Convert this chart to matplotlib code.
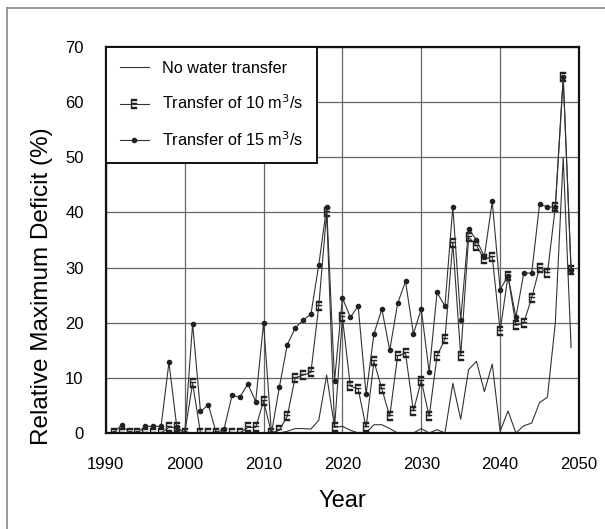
import numpy as np
import matplotlib.pyplot as plt
from matplotlib.lines import Line2D

plt.rcParams['font.family'] = ['Liberation Sans', 'DejaVu Sans']

years = np.arange(1991, 2050)

# relative maximum deficit (%) per year
no_transfer = [0, 0, 0, 0, 0, 0, 0, 0, 0, 0,
               0, 0, 0, 0, 0, 0, 0, 0, 0, 0,
               0, 0, 0.3, 0.8, 0.8, 0.7, 2.3, 10.5, 1.0, 1.2,
               0.5, 0, 0, 1.5, 1.5, 0.8, 0, 0, 0, 0.8,
               0, 0.6, 0, 9.0, 2.5, 11.5, 13.0, 7.5, 12.5, 0.3,
               4.0, 0, 1.3, 1.8, 5.5, 6.5, 20.0, 50.0, 15.5]

transfer_10 = [0, 0, 0, 0, 0, 0, 0, 1.0, 1.0, 0,
               9.0, 0, 0, 0, 0, 0, 0, 1.0, 1.0, 5.8,
               0, 0.5, 3.0, 10.0, 10.5, 11.0, 23.0, 40.0, 1.0, 21.0,
               8.5, 8.0, 1.0, 13.0, 8.0, 3.0, 14.0, 14.5, 4.0, 9.5,
               3.0, 14.0, 17.0, 34.5, 14.0, 35.5, 34.0, 31.5, 32.0, 18.5,
               28.5, 19.5, 20.0, 24.5, 30.0, 29.0, 41.0, 64.5, 29.5]

transfer_15 = [0, 1.5, 0, 0, 1.2, 1.2, 1.2, 12.8, 1.0, 0,
               19.8, 3.9, 5.1, 0, 0.8, 6.8, 6.5, 8.9, 5.7, 20.0,
               0, 8.3, 16.0, 19.0, 20.5, 21.5, 30.5, 41.0, 9.5, 24.5,
               21.0, 23.0, 7.0, 18.0, 22.5, 15.0, 23.5, 27.5, 18.0, 22.5,
               11.0, 25.5, 23.0, 41.0, 20.5, 37.0, 35.0, 32.0, 42.0, 26.0,
               28.5, 21.0, 29.0, 29.0, 41.5, 41.0, 41.0, 64.5, 29.5]

fig = plt.figure(figsize=(6.05, 5.29), dpi=100)
ax = fig.add_axes([0.175, 0.1815, 0.782, 0.7295])

line_kw = dict(color='#333333', lw=0.8)
e_kw = dict(marker=r'$\mathrm{E}$', ms=6.5, mec='#222222', mfc='#222222', mew=0.3)
dot_kw = dict(marker='o', ms=3, mec='#222222', mfc='#222222')

ax.plot(years, no_transfer, **line_kw)
ax.plot(years, transfer_10, **e_kw, **line_kw)
ax.plot(years, transfer_15, **dot_kw, **line_kw)

ax.set_xlim(1990, 2050)
ax.set_ylim(0, 70)
ax.set_xticks(np.arange(1990, 2051, 10))
ax.set_yticks(np.arange(0, 71, 10))
ax.grid(True, color='#666666', lw=0.9)
ax.set_axisbelow(True)
ax.tick_params(length=0, labelsize=12)
ax.tick_params(axis='x', pad=17)
ax.tick_params(axis='y', pad=16)
for s in ax.spines.values():
    s.set_linewidth(1.6)
    s.set_color('#111111')

ax.set_xlabel('Year', fontsize=17, labelpad=13)
ax.set_ylabel('Relative Maximum Deficit (%)', fontsize=17.5)
ax.yaxis.set_label_coords(-0.112, 0.38)

handles = [Line2D([], [], **line_kw),
           Line2D([], [], **e_kw, **line_kw),
           Line2D([], [], **dot_kw, **line_kw)]
labels = ['No water transfer', 'Transfer of 10 m$^3$/s', 'Transfer of 15 m$^3$/s']
leg = ax.legend(handles, labels, loc='upper left', bbox_to_anchor=(0, 1),
                fontsize=11.7, fancybox=False, framealpha=1, edgecolor='#111111',
                borderpad=0.85, labelspacing=1.1, handlelength=1.8,
                handletextpad=0.8, borderaxespad=0)
leg.get_frame().set_linewidth(1.4)

# page border along the left and top edges
fig.add_artist(Line2D([0.011, 0.011], [0, 0.985], color='#888888', lw=1.2,
                      transform=fig.transFigure))
fig.add_artist(Line2D([0.011, 1], [0.985, 0.985], color='#888888', lw=1.2,
                      transform=fig.transFigure))

fig.savefig('out.png', dpi=100)
